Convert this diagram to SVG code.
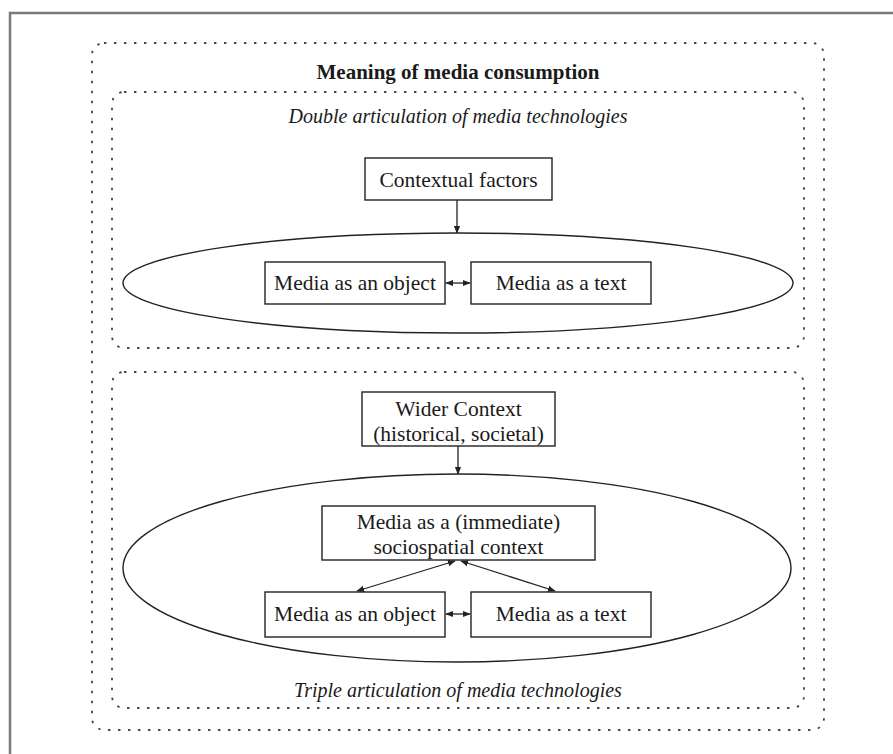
<svg xmlns="http://www.w3.org/2000/svg" width="893" height="754" viewBox="0 0 893 754">
  <defs>
    <style>
      .frame { fill: none; stroke: #7a7a7a; stroke-width: 2.5; }
      .dotted { fill: none; stroke: #444; stroke-width: 1.8; stroke-dasharray: 2.4 7.6; }
      .box { fill: #fff; stroke: #222; stroke-width: 1.4; }
      .ell { fill: none; stroke: #222; stroke-width: 1.4; }
      .lbl { font-family: "Liberation Serif", "Times New Roman", serif; font-size: 21.5px; fill: #1a1a1a; text-anchor: middle; }
      .title { font-weight: bold; font-size: 21px; }
      .sub { font-style: italic; font-size: 20px; }
      .edge { fill: none; stroke: #222; stroke-width: 1.3; }
    </style>
    <marker id="ah" viewBox="0 0 10 10" refX="9" refY="5" markerWidth="8" markerHeight="8" markerUnits="userSpaceOnUse" orient="auto-start-reverse">
      <path d="M0,1 L10,5 L0,9 Z" fill="#222"/>
    </marker>
  </defs>
  <rect width="893" height="754" fill="#fff"/>
  <!-- page frame -->
  <rect class="frame" x="10" y="13" width="900" height="760"/>

  <!-- outer group: meaning of media consumption -->
  <g id="meaning">
    <rect class="dotted" x="92" y="43" width="732" height="687" rx="12"/>
    <text class="lbl title" x="458" y="79">Meaning of media consumption</text>
  </g>

  <!-- double articulation -->
  <g id="double-articulation">
    <rect class="dotted" x="112" y="92" width="692" height="256" rx="12"/>
    <text class="lbl sub" x="458" y="123">Double articulation of media technologies</text>
    <ellipse class="ell" cx="458" cy="283" rx="335" ry="50"/>
  </g>
  <g id="contextual-factors">
    <rect class="box" x="365" y="158" width="187" height="42"/>
    <text class="lbl" x="458.5" y="187">Contextual factors</text>
  </g>
  <g id="object-1">
    <rect class="box" x="265" y="262" width="180" height="42"/>
    <text class="lbl" x="355" y="290">Media as an object</text>
  </g>
  <g id="text-1">
    <rect class="box" x="471" y="262" width="180" height="42"/>
    <text class="lbl" x="561" y="290">Media as a text</text>
  </g>

  <!-- triple articulation -->
  <g id="triple-articulation">
    <rect class="dotted" x="112" y="372" width="692" height="336" rx="12"/>
    <ellipse class="ell" cx="457" cy="568" rx="334" ry="94"/>
    <text class="lbl sub" x="458" y="697">Triple articulation of media technologies</text>
  </g>
  <g id="wider-context">
    <rect class="box" x="362" y="392" width="193" height="54"/>
    <text class="lbl" x="458.5" y="416">Wider Context</text>
    <text class="lbl" x="458.5" y="441">(historical, societal)</text>
  </g>
  <g id="sociospatial">
    <rect class="box" x="322" y="506" width="273" height="54"/>
    <text class="lbl" x="458.5" y="529">Media as a (immediate)</text>
    <text class="lbl" x="458.5" y="554">sociospatial context</text>
  </g>
  <g id="object-2">
    <rect class="box" x="265" y="592" width="180" height="45"/>
    <text class="lbl" x="355" y="621">Media as an object</text>
  </g>
  <g id="text-2">
    <rect class="box" x="471" y="592" width="180" height="45"/>
    <text class="lbl" x="561" y="621">Media as a text</text>
  </g>

  <!-- connectors -->
  <g id="connectors">
    <line class="edge" x1="457" y1="200" x2="457" y2="233" marker-end="url(#ah)"/>
    <line class="edge" x1="446" y1="283" x2="470" y2="283" marker-start="url(#ah)" marker-end="url(#ah)"/>
    <line class="edge" x1="458" y1="446" x2="458" y2="474" marker-end="url(#ah)"/>
    <line class="edge" x1="455" y1="561" x2="357" y2="591" marker-start="url(#ah)" marker-end="url(#ah)"/>
    <line class="edge" x1="461" y1="561" x2="555" y2="591" marker-start="url(#ah)" marker-end="url(#ah)"/>
    <line class="edge" x1="446" y1="614" x2="470" y2="614" marker-start="url(#ah)" marker-end="url(#ah)"/>
  </g>
</svg>
